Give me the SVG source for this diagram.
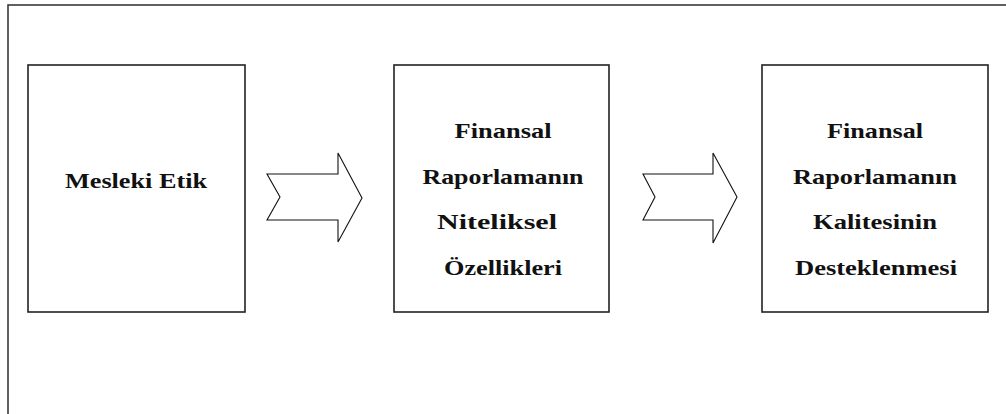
<svg xmlns="http://www.w3.org/2000/svg" width="1006" height="414" viewBox="0 0 1006 414">
  <style>
    .frame { fill: none; stroke: #3a3a3a; stroke-width: 1.6; }
    .box { fill: #ffffff; stroke: #222222; stroke-width: 1.6; }
    .arrow { fill: #ffffff; stroke: #111111; stroke-width: 1.1; stroke-linejoin: miter; }
    .label { font-family: "Liberation Serif", "Times New Roman", serif; font-weight: bold; font-size: 21px; fill: #111111; text-anchor: middle; }
  </style>
  <rect width="1006" height="414" fill="#ffffff"/>
  <!-- outer frame, running past the right and bottom edges -->
  <rect class="frame" x="8" y="5" width="1010" height="420"/>

  <g id="node-mesleki-etik">
    <rect class="box" x="28" y="65" width="217" height="247"/>
    <text class="label" x="136" y="188" textLength="142" lengthAdjust="spacingAndGlyphs">Mesleki Etik</text>
  </g>

  <g id="node-niteliksel-ozellikler">
    <rect class="box" x="394" y="65" width="215" height="247"/>
    <text class="label" x="503" y="138" textLength="97" lengthAdjust="spacingAndGlyphs">Finansal</text>
    <text class="label" x="503" y="184" textLength="161" lengthAdjust="spacingAndGlyphs">Raporlamanın</text>
    <text class="label" x="497" y="229" textLength="120" lengthAdjust="spacingAndGlyphs">Niteliksel</text>
    <text class="label" x="503" y="275" textLength="118" lengthAdjust="spacingAndGlyphs">Özellikleri</text>
  </g>

  <g id="node-kalite-destek">
    <rect class="box" x="762" y="65" width="226" height="247"/>
    <text class="label" x="875" y="138" textLength="96" lengthAdjust="spacingAndGlyphs">Finansal</text>
    <text class="label" x="875" y="184" textLength="164" lengthAdjust="spacingAndGlyphs">Raporlamanın</text>
    <text class="label" x="875" y="229" textLength="124" lengthAdjust="spacingAndGlyphs">Kalitesinin</text>
    <text class="label" x="876" y="275" textLength="162" lengthAdjust="spacingAndGlyphs">Desteklenmesi</text>
  </g>

  <g id="connectors">
    <polygon class="arrow" points="267,174 338,174 338,153 362,198 338,242 338,220 267,220 280,197"/>
    <polygon class="arrow" points="643,174 713,174 713,153 737,197 713,243 713,220 643,220 655,197"/>
  </g>
</svg>
